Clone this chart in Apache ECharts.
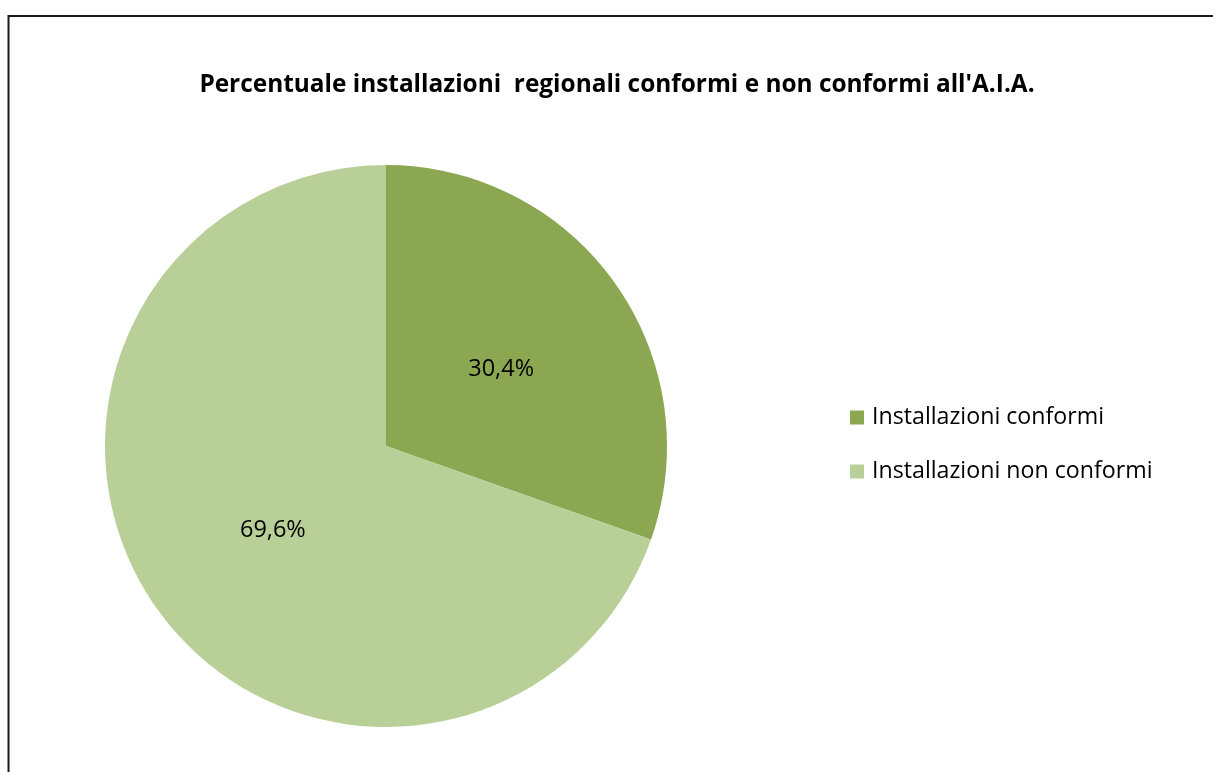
<!DOCTYPE html>
<html>
<head>
<meta charset="utf-8">
<script src="https://cdn.jsdelivr.net/npm/echarts@6/dist/echarts.min.js"></script>
<style>
html,body{margin:0;padding:0;background:#fff;}
#chart{width:1213px;height:772px;}
</style>
</head>
<body>
<div id="chart"></div>
<script>
const titleText = "Percentuale installazioni  regionali conformi e non conformi all'A.I.A.";
const categories = ["Installazioni conformi", "Installazioni non conformi"];
const values = [30.4, 69.6];
const colors = ["#8BA752", "#B9CF98"];

const chart = echarts.init(document.getElementById('chart'), null, {renderer: 'canvas'});
chart.setOption({
  backgroundColor: '#fff',
  animation: false,
  title: {
    text: titleText,
    left: 612, top: 68, textAlign: 'center',
    textStyle: {fontFamily: 'Open Sans', fontWeight: 'bold', fontSize: 24.4, color: '#000'}
  },
  legend: {
    orient: 'vertical',
    left: 845, top: 401,
    itemWidth: 14, itemHeight: 14, itemGap: 31,
    icon: 'rect',
    textStyle: {fontFamily: 'Open Sans', fontSize: 23.2, color: '#000', padding: [0,0,0,3]},
    data: categories
  },
  graphic: [
    {type: 'polyline', shape: {points: [[8.5, 772], [8.5, 16], [1213, 16]]}, style: {stroke: '#1a1a1a', lineWidth: 2, fill: null}}
  ],
  series: [{
    type: 'pie',
    center: [386, 446],
    radius: [0, 281],
    startAngle: 90,
    clockwise: true,
    color: colors,
    label: {
      show: true, position: 'inside',
      formatter: p => p.value.toFixed(1).replace('.', ',') + '%',
      fontFamily: 'Open Sans', fontSize: 23.5, color: '#000'
    },
    labelLine: {show: false},
    emphasis: {disabled: true},
    itemStyle: {borderWidth: 0},
    data: categories.map((c, i) => ({
      name: c, value: values[i],
      label: i === 0 ? {offset: [-2, 6]} : {offset: [4, 1]}
    }))
  }]
});
</script>
</body>
</html>
